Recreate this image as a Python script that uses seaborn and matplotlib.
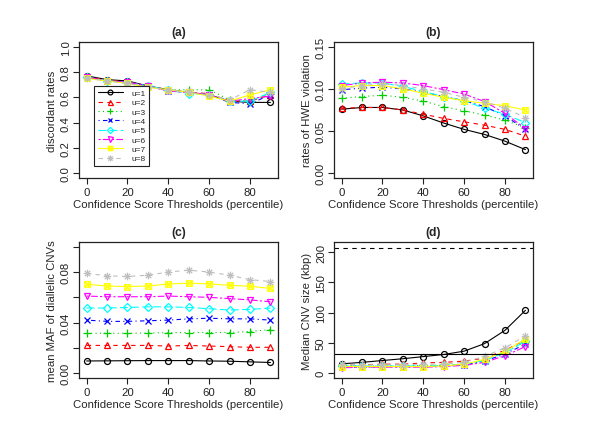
import numpy as np
import pandas as pd
import seaborn as sns
import matplotlib
matplotlib.use("Agg")
import matplotlib.pyplot as plt
from matplotlib.path import Path

# x values shared by every panel
thresholds = [0, 10, 20, 30, 40, 50, 60, 70, 80, 90]
series_names = ["u=1", "u=2", "u=3", "u=4", "u=5", "u=6", "u=7", "u=8"]

# (a) discordant rates
discordant_rates = [
    [0.77, 0.74, 0.73, 0.69, 0.66, 0.64, 0.62, 0.57, 0.56, 0.56],
    [0.76, 0.74, 0.72, 0.69, 0.66, 0.64, 0.63, 0.57, 0.57, 0.62],
    [0.76, 0.73, 0.72, 0.69, 0.66, 0.66, 0.66, 0.58, 0.57, 0.63],
    [0.76, 0.73, 0.72, 0.69, 0.65, 0.64, 0.62, 0.56, 0.55, 0.62],
    [0.76, 0.73, 0.72, 0.69, 0.66, 0.63, 0.62, 0.57, 0.57, 0.64],
    [0.76, 0.73, 0.72, 0.69, 0.65, 0.64, 0.62, 0.57, 0.59, 0.61],
    [0.75, 0.73, 0.71, 0.68, 0.66, 0.64, 0.61, 0.57, 0.62, 0.66],
    [0.75, 0.73, 0.71, 0.68, 0.66, 0.64, 0.62, 0.58, 0.66, 0.64],
]

# (b) rates of HWE violation
hwe_rates = [
    [0.076, 0.078, 0.078, 0.075, 0.068, 0.0595, 0.052, 0.046, 0.038, 0.028],
    [0.077, 0.078, 0.078, 0.075, 0.070, 0.065, 0.061, 0.057, 0.052, 0.044],
    [0.089, 0.091, 0.0925, 0.090, 0.0855, 0.079, 0.074, 0.069, 0.063, 0.054],
    [0.099, 0.101, 0.102, 0.100, 0.096, 0.091, 0.086, 0.079, 0.068, 0.052],
    [0.106, 0.107, 0.107, 0.103, 0.097, 0.091, 0.086, 0.077, 0.070, 0.060],
    [0.104, 0.107, 0.108, 0.107, 0.104, 0.099, 0.094, 0.085, 0.071, 0.053],
    [0.102, 0.104, 0.104, 0.100, 0.095, 0.090, 0.086, 0.083, 0.080, 0.075],
    [0.100, 0.104, 0.106, 0.104, 0.100, 0.096, 0.090, 0.085, 0.077, 0.066],
]

# (c) mean MAF of diallelic CNVs
mean_maf = [
    [0.0097, 0.0098, 0.0099, 0.0100, 0.0100, 0.0100, 0.0097, 0.0095, 0.0090, 0.0085],
    [0.0220, 0.0220, 0.0220, 0.0220, 0.0215, 0.0220, 0.0215, 0.0210, 0.0205, 0.0205],
    [0.0316, 0.0316, 0.0316, 0.0318, 0.0320, 0.0322, 0.0322, 0.0322, 0.0330, 0.0345],
    [0.0420, 0.0410, 0.0410, 0.0415, 0.0420, 0.0430, 0.0435, 0.0430, 0.0430, 0.0420],
    [0.0516, 0.0516, 0.0520, 0.0525, 0.0525, 0.0520, 0.0510, 0.0500, 0.0505, 0.0515],
    [0.0610, 0.0605, 0.0605, 0.0605, 0.0610, 0.0605, 0.0600, 0.0590, 0.0580, 0.0565],
    [0.0703, 0.0690, 0.0685, 0.0690, 0.0705, 0.0712, 0.0707, 0.0695, 0.0688, 0.0670],
    [0.0790, 0.0770, 0.0765, 0.0775, 0.0800, 0.0815, 0.0800, 0.0775, 0.0740, 0.0725],
]

# (d) median CNV size (kbp)
median_size = [
    [15.5, 18, 21, 24, 27.5, 31, 36.5, 49, 71, 104],
    [14, 14, 15, 15, 17, 18, 20, 25, 38, 55],
    [13, 12, 12, 12, 13, 13, 15, 22, 35, 52],
    [10, 10, 11, 11, 11, 12, 14, 20, 32, 48],
    [12, 12, 12, 12, 12, 13, 15, 21, 34, 53],
    [9, 10, 10, 10, 10, 11, 13, 18, 29, 44],
    [11, 11, 11, 11, 11, 12, 15, 23, 36, 57],
    [15, 14, 14, 14, 15, 15, 18, 28, 42, 62],
]
size_ref_dashed = 207
size_ref_solid = 31

# R default palette, line types and plotting symbols 1..8
colors = ["#000000", "#FF0000", "#00CD00", "#0000FF",
          "#00FFFF", "#FF00FF", "#FFFF00", "#BEBEBE"]
linestyles = ["-", (0, (4, 4)), (0, (1, 3)), (0, (1, 3, 4, 3)),
              (0, (7, 3)), (0, (2, 2, 6, 2)), "-", (0, (4, 4))]

M, L = Path.MOVETO, Path.LINETO
boxed_x = Path([(-1, -1), (1, -1), (1, 1), (-1, 1), (-1, -1),
                (-1, -1), (1, 1), (-1, 1), (1, -1)],
               [M, L, L, L, L, M, L, M, L])
d = 0.707
asterisk = Path([(-1, 0), (1, 0), (0, -1), (0, 1),
                 (-d, -d), (d, d), (-d, d), (d, -d)],
                [M, L, M, L, M, L, M, L])
markers = ["o", "^", "+", "x", "D", "v", boxed_x, asterisk]
marker_sizes = [4.3, 4.5, 5.5, 4.3, 4, 4.5, 4, 5.5]

sns.set_theme(style="ticks")
plt.rcParams["font.family"] = ["Liberation Sans", "DejaVu Sans"]
plt.rcParams.update({
    "axes.edgecolor": "#222222",
    "axes.linewidth": 0.9,
    "xtick.color": "#222222",
    "ytick.color": "#222222",
    "xtick.major.size": 4,
    "ytick.major.size": 4,
    "xtick.major.width": 0.8,
    "ytick.major.width": 0.8,
})

fs = 8.2

fig = plt.figure(figsize=(6, 4.39), dpi=100)
W, H = 600, 439
boxes = [(79.3, 42.7), (334.3, 42.7), (79.3, 242.7), (334.3, 242.7)]
bw, bh = 198.5, 136.6
axes = [fig.add_axes([x / W, (H - y - bh) / H, bw / W, bh / H]) for x, y in boxes]

panels = [
    ("(a)", "discordant rates", discordant_rates, (0, 1.0),
     [0, 0.2, 0.4, 0.6, 0.8, 1.0], ["0.0", "0.2", "0.4", "0.6", "0.8", "1.0"]),
    ("(b)", "rates of HWE violation", hwe_rates, (0, 0.15),
     [0, 0.05, 0.10, 0.15], ["0.00", "0.05", "0.10", "0.15"]),
    ("(c)", "mean MAF of diallelic CNVs", mean_maf, (0, 0.10),
     [0, 0.02, 0.04, 0.06, 0.08, 0.10], ["0.00", "", "0.04", "", "0.08", ""]),
    ("(d)", "Median CNV size (kbp)", median_size, (0, 209),
     [0, 50, 100, 150, 200], ["0", "50", "100", "150", "200"]),
]

for ax, (title, ylabel, values, (lo, hi), yt, ytl) in zip(axes, panels):
    for i, name in enumerate(series_names):
        df = pd.DataFrame({"threshold": thresholds, "value": values[i]})
        sns.lineplot(data=df, x="threshold", y="value", ax=ax, errorbar=None,
                     color=colors[i], linestyle=linestyles[i], linewidth=0.8,
                     marker=markers[i], markersize=marker_sizes[i],
                     mfc="none", mec=colors[i], mew=0.9, label=name)
    if title == "(d)":
        ax.axhline(size_ref_dashed, color="black", linestyle=(0, (4, 4)), linewidth=0.8)
        ax.axhline(size_ref_solid, color="black", linestyle="-", linewidth=0.8)
    span = hi - lo
    ax.set_ylim(lo - 0.04 * span, hi + 0.04 * span)
    ax.set_xlim(-3.6, 93.6)
    ax.set_xticks([0, 20, 40, 60, 80])
    ax.set_yticks(yt)
    ax.set_yticklabels(ytl, rotation=90, va="center")
    ax.set_title(title, fontweight="bold", fontsize=fs + 0.5, pad=5)
    ax.set_xlabel("Confidence Score Thresholds (percentile)", fontsize=fs, labelpad=1.5)
    ax.set_ylabel(ylabel, fontsize=fs, labelpad=3)
    ax.tick_params(labelsize=fs, pad=2)
    for s in ax.spines.values():
        s.set_visible(True)
    if title == "(a)":
        leg = ax.legend(loc="lower left", bbox_to_anchor=(0.054, 0.06),
                        fancybox=False, framealpha=1, edgecolor="#222222",
                        fontsize=6, handlelength=3.0, handleheight=0.5,
                        labelspacing=0.24, borderpad=0.45, handletextpad=1.0,
                        markerscale=0.8)
        leg.get_frame().set_linewidth(0.8)
    else:
        ax.get_legend().remove()

fig.savefig("out.png", dpi=100, facecolor="white")
